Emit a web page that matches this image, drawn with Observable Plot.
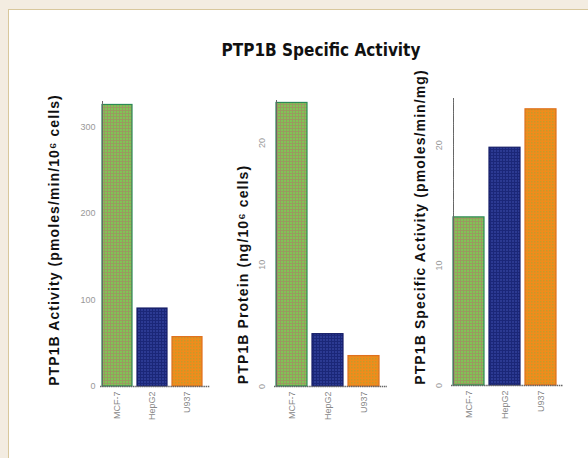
<!DOCTYPE html>
<html>
<head>
<meta charset="utf-8">
<script src="https://cdn.jsdelivr.net/npm/d3@7"></script>
<script src="https://cdn.jsdelivr.net/npm/@observablehq/plot@0.6"></script>
<style>
  html, body { margin: 0; padding: 0; }
  body { width: 588px; height: 458px; background: #f3ece1; position: relative; overflow: hidden; font-family: "Liberation Sans", Arial, sans-serif; }
  #panel { position: absolute; left: 8px; top: 9px; width: 580px; height: 449px; background: #ffffff; border-left: 1px solid #d8c79c; border-top: 1px solid #d8c79c; }
  #title { position: absolute; left: 27px; width: 588px; top: 40px; text-align: center; font-family: "Liberation Sans Narrow", "DejaVu Sans Condensed", sans-serif; font-weight: bold; font-size: 17px; color: #111; }
  .chart { position: absolute; top: 0; }
  .chart g[font-weight="bold"] text { letter-spacing: 1.1px; }
</style>
</head>
<body>
<div id="panel"></div>
<div id="title">PTP1B Specific Activity</div>
<svg width="0" height="0" style="position:absolute">
  <defs>
    <pattern id="pGreen" width="3" height="3" patternUnits="userSpaceOnUse">
      <rect width="3" height="3" fill="#9a9a60"></rect>
      <rect width="2" height="2" fill="#80c455"></rect>
    </pattern>
    <pattern id="pBlue" width="3" height="3" patternUnits="userSpaceOnUse">
      <rect width="3" height="3" fill="#1b2778"></rect>
      <rect width="2" height="2" fill="#2c3a92"></rect>
    </pattern>
    <pattern id="pOrange" width="3" height="3" patternUnits="userSpaceOnUse">
      <rect width="3" height="3" fill="#f08c1c"></rect>
      <rect x="1" y="1" width="1.5" height="1.5" fill="#c49a2a"></rect>
    </pattern>
  </defs>
</svg>
<script>
// Data
const cells1 = ["MCF-7", "HepG2", "U937"];
const cells2 = ["MCF-7", "HepG2", "U937"];
const cells3 = ["MCF-7", "HepG2", "U937"];
const activity = [325, 90, 57];          // pmoles/min/10^6 cells
const protein = [23.3, 4.3, 2.5];        // ng/10^6 cells
const specific = [14.0, 19.8, 23.0];     // pmoles/min/mg
const ticks1 = [0, 100, 200, 300];
const ticks2 = [0, 10, 20];
const ticks3 = [0, 10, 20];
const label1 = "PTP1B Activity (pmoles/min/10\u2076 cells)";
const label2 = "PTP1B Protein (ng/10\u2076 cells)";
const label3 = "PTP1B Specific Activity (pmoles/min/mg)";

const fills = ["url(#pGreen)", "url(#pBlue)", "url(#pOrange)"];
const strokes = ["#2a8a55", "#141c66", "#e0701e"];

function panel({cats, vals, ticks, label, left, width, ml, mr, mt, mb, ymax, rotateTicks, labelDx, labelDy, tickPad}) {
  const data = cats.map((c, i) => ({cell: c, value: vals[i]}));
  const p = Plot.plot({
    width, height: 458,
    marginLeft: ml, marginRight: mr, marginTop: mt, marginBottom: mb,
    style: {background: "transparent", fontFamily: "Liberation Sans, Arial, sans-serif", overflow: "visible"},
    x: {domain: cats, paddingInner: 0.14, paddingOuter: 0.03, align: 0, axis: null},
    y: {domain: [0, ymax], axis: null},
    color: {domain: cats, range: fills},
    marks: [
      Plot.barY(data, {x: "cell", y: "value", fill: "cell", stroke: (d) => strokes[cats.indexOf(d.cell)], strokeWidth: 1.2}),
      Plot.frame({anchor: "left", stroke: "#666", strokeWidth: 1, strokeDasharray: "1.5,0.7"}),
      Plot.ruleY([0], {stroke: "#666", strokeWidth: 1.5, strokeDasharray: "1.5,0.7", insetLeft: -2, insetRight: -3}),
      Plot.axisY({ticks, tickSize: 0, tickPadding: tickPad, tickRotate: rotateTicks ? -90 : 0, fill: "#999", fontSize: 9, label: null}),
      Plot.axisX({tickSize: 0, tickPadding: 5, tickRotate: -90, fill: "#888", fontSize: 9, label: null}),
      Plot.text([label], {frameAnchor: "left", textAnchor: "middle", rotate: -90, dx: labelDx, dy: labelDy, fontWeight: "bold", fontSize: 14, fill: "#111", text: (d) => d})
    ]
  });
  p.classList.add("chart");
  p.style.left = left + "px";
  document.body.appendChild(p);
}

panel({cats: cells1, vals: activity, ticks: ticks1, label: label1, left: 0, width: 212, ml: 102, mr: 5, mt: 101, mb: 72, ymax: 329, rotateTicks: false, labelDx: -48, labelDy: -4, tickPad: 7});
panel({cats: cells2, vals: protein, ticks: ticks2, label: label2, left: 212, width: 186, ml: 64, mr: 14, mt: 100, mb: 72, ymax: 23.5, rotateTicks: true, labelDx: -33, labelDy: 31, tickPad: 12});
panel({cats: cells3, vals: specific, ticks: ticks3, label: label3, left: 398, width: 190, ml: 55, mr: 28, mt: 98, mb: 73, ymax: 23.9, rotateTicks: true, labelDx: -33, labelDy: -15, tickPad: 12});
</script>
</body>
</html>
